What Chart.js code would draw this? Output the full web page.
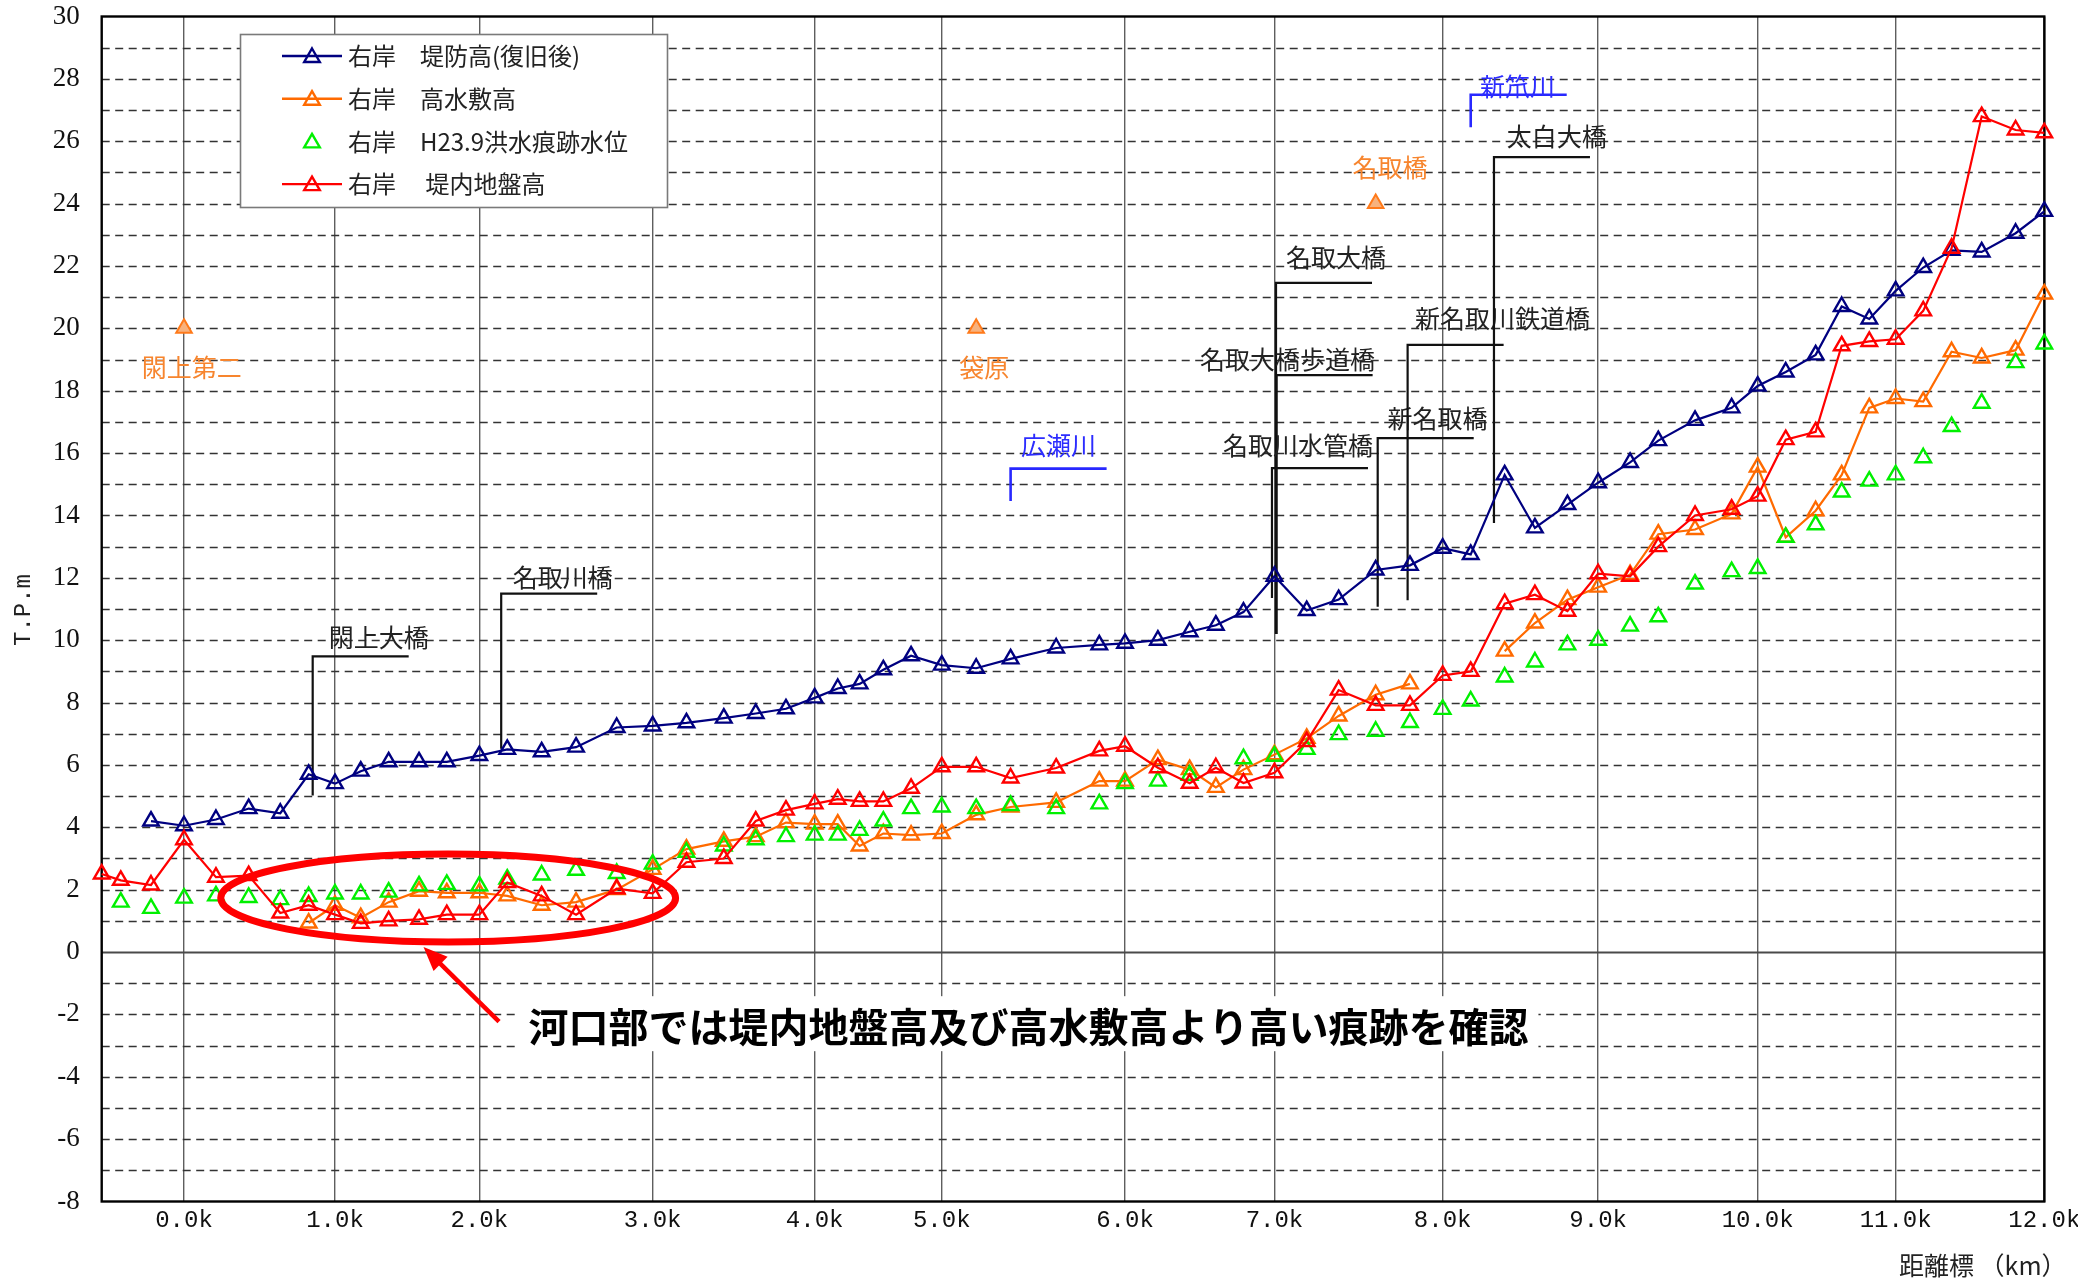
<!DOCTYPE html>
<html lang="ja">
<head>
<meta charset="utf-8">
<title>名取川 右岸 縦断図</title>
<script src="https://cdn.jsdelivr.net/npm/chart.js@4.4.1/dist/chart.umd.min.js"></script>
<style>
  html, body { margin: 0; padding: 0; background: #fff; }
  canvas { display: block; }
</style>
</head>
<body>
<canvas id="profile" width="2078" height="1280"></canvas>
<script>
// Distance marker (km) of each surveyed cross-section
const sectionKm = [
  -0.6, -0.4, -0.2, 0.0, 0.2, 0.4, 0.6, 0.8, 1.0, 1.2,
  1.4, 1.6, 1.8, 2.0, 2.2, 2.4, 2.6, 2.8, 3.0, 3.2,
  3.4, 3.6, 3.8, 4.0, 4.2, 4.4, 4.6, 4.8, 5.0, 5.2,
  5.4, 5.6, 5.8, 6.0, 6.2, 6.4, 6.6, 6.8, 7.0, 7.2,
  7.4, 7.6, 7.8, 8.0, 8.2, 8.4, 8.6, 8.8, 9.0, 9.2,
  9.4, 9.6, 9.8, 10.0, 10.2, 10.4, 10.6, 10.8, 11.0, 11.2,
  11.4, 11.6, 11.8, 12.0
];
// Plotted position of each cross-section along the channel (km)
const sectionPos = [
  -0.531, -0.408, -0.213, 0.000, 0.206, 0.417, 0.621, 0.804, 0.974, 1.140,
  1.320, 1.516, 1.695, 1.905, 2.085, 2.307, 2.529, 2.791, 3.023, 3.241,
  3.482, 3.688, 3.883, 4.068, 4.217, 4.358, 4.511, 4.690, 4.888, 5.110,
  5.332, 5.626, 5.904, 6.070, 6.282, 6.487, 6.656, 6.834, 7.034, 7.242,
  7.448, 7.687, 7.908, 8.119, 8.300, 8.519, 8.714, 8.924, 9.122, 9.328,
  9.510, 9.747, 9.983, 10.151, 10.332, 10.525, 10.693, 10.871, 11.041, 11.219,
  11.402, 11.596, 11.815, 12.000
];
// 右岸 堤防高(復旧後)  T.P.m
const leveeHeight = [
  null, null, 4.2, 4.05, 4.25, 4.6, 4.45, 5.7, 5.4, 5.8,
  6.1, 6.1, 6.1, 6.3, 6.5, 6.42, 6.57, 7.2, 7.25, 7.35,
  7.5, 7.65, 7.8, 8.15, 8.45, 8.6, 9.05, 9.5, 9.2, 9.1,
  9.4, 9.75, 9.85, 9.9, 10.0, 10.27, 10.48, 10.9, 12.05, 10.95,
  11.3, 12.25, 12.4, 12.95, 12.75, 15.3, 13.6, 14.35, 15.05, 15.7,
  16.4, 17.05, 17.45, 18.15, 18.6, 19.15, 20.7, 20.3, 21.2, 21.95,
  22.5, 22.45, 23.05, 23.75
];
// 右岸 高水敷高
const floodplainHeight = [
  null, null, null, null, null, null, null, 0.93, 1.5, 1.1,
  1.6, 1.95, 1.9, 1.9, 1.8, 1.5, 1.6, 2.0, 2.65, 3.3,
  3.55, 3.7, 4.15, 4.1, 4.1, 3.4, 3.8, 3.75, 3.8, 4.4,
  4.65, 4.8, 5.48, 5.48, 6.17, 5.85, 5.28, 5.85, 6.33, 6.85,
  7.57, 8.25, 8.6, null, null, 9.65, 10.55, 11.3, 11.7, 12.1,
  13.4, 13.55, 14.05, 15.55, 13.3, 14.15, 15.3, 17.45, 17.75, 17.65,
  19.25, 19.05, 19.3, 21.1
];
// 右岸 H23.9洪水痕跡水位
const floodMark = [
  null, 1.6, 1.4, 1.73, 1.8, 1.75, 1.68, 1.78, 1.86, 1.86,
  1.92, 2.12, 2.17, 2.12, 2.34, 2.47, 2.62, 2.52, 2.82, 3.2,
  3.4, 3.6, 3.7, 3.75, 3.75, 3.9, 4.2, 4.6, 4.65, 4.6,
  4.7, 4.6, 4.75, 5.4, 5.48, 5.67, null, 6.2, 6.28, 6.5,
  6.97, 7.08, 7.36, 7.78, 8.05, 8.82, 9.3, 9.85, 10.0, 10.45,
  10.75, 11.8, 12.2, 12.3, 13.3, 13.7, 14.75, 15.1, 15.3, 15.85,
  16.85, 17.6, 18.9, 19.5
];
// 右岸 堤内地盤高
const groundHeight = [
  2.5, 2.3, 2.15, 3.6, 2.4, 2.45, 1.25, 1.5, 1.2, 0.92,
  1.0, 1.05, 1.2, 1.2, 2.23, 1.8, 1.2, 2.03, 1.88, 2.88,
  3.0, 4.2, 4.55, 4.75, 4.9, 4.83, 4.83, 5.25, 5.94, 5.94,
  5.58, 5.9, 6.45, 6.6, 5.91, 5.41, 5.91, 5.42, 5.75, 6.75,
  8.4, 7.91, 7.91, 8.87, 9.0, 11.17, 11.46, 10.93, 12.13, 12.05,
  13.0, 14.0, 14.2, 14.62, 16.43, 16.68, 19.44, 19.58, 19.65, 20.56,
  22.57, 26.79, 26.36, 26.27
];

// Labelled km posts on the distance axis
const kmPosts = [0.0, 1.0, 2.0, 3.0, 4.0, 5.0, 6.0, 7.0, 8.0, 9.0, 10.0, 11.0, 12.0];
const kmPostLabels = ['0.0k', '1.0k', '2.0k', '3.0k', '4.0k', '5.0k', '6.0k', '7.0k', '8.0k', '9.0k', '10.0k', '11.0k', '12.0k'];

// Bridge girder levels marked on the profile
const bridgeMarkKm = [0.0, 5.2, 7.6];
const bridgeMarkHeight = [20, 20, 24];

// Leader callouts for bridges: anchor section position, top / bottom of leader (T.P.m)
const calloutNames  = ['閖上大橋', '名取川橋', '名取大橋', '名取大橋歩道橋', '名取川水管橋', '新名取橋', '新名取川鉄道橋', '太白大橋'];
const calloutPos    = [0.830, 2.046, 7.044, 7.048, 7.018, 7.700, 7.893, 8.450];
const calloutTop    = [9.48, 11.49, 21.46, 18.50, 15.52, 16.48, 19.47, 25.49];
const calloutBottom = [5.02, 6.52, 10.20, 10.20, 11.35, 11.07, 11.28, 13.76];
const calloutTextPos = [0.933, 2.120, 7.108, 6.554, 6.702, 7.764, 7.941, 8.532];
const calloutTextY   = [10.08, 12.00, 22.28, 19.01, 16.25, 17.12, 20.32, 26.16];

// Tributary confluences
const tributaryNames = ['広瀬川', '新笊川'];
const tributaryPos = [5.332, 8.300];
const tributaryTop = [15.50, 27.49];
const tributaryBottom = [14.46, 26.45];
const tributaryTextPos = [5.399, 8.360];
const tributaryTextY = [16.25, 27.74];

// Names printed under the bridge-level marks
const markNames = ['閖上第二', '袋原', '名取橋'];
const markTextPos = [-0.272, 5.001, 7.538];
const markTextY = [18.75, 18.75, 25.17];

const noteText = '河口部では堤内地盤高及び高水敷高より高い痕跡を確認';

const CJK = '"Noto Sans CJK JP", "Noto Sans CJK SC", sans-serif';
const NAVY = '#000080', ORANGE = '#ff6a00', GREEN = '#00f000', RED = '#ff0000';
const MARK_R = 9;

const toPoints = vals => vals.map((v, i) => ({ x: sectionPos[i], y: v }));
const posOf = km => sectionPos[sectionKm.indexOf(km)];
const kmPostPos = kmPosts.map(posOf);

function lineSet(label, values, color, order, showLine) {
  return {
    label, data: toPoints(values), order,
    showLine, spanGaps: false, tension: 0, clip: false,
    borderColor: color, borderWidth: 2.2,
    pointStyle: 'triangle', pointRadius: MARK_R, pointHoverRadius: MARK_R,
    pointBorderColor: color, pointBorderWidth: 2.4,
    pointBackgroundColor: 'rgba(0,0,0,0)'
  };
}

function triangle(ctx, x, y, r) {
  ctx.beginPath();
  ctx.moveTo(x, y - r);
  ctx.lineTo(x + r * 0.866, y + r / 2);
  ctx.lineTo(x - r * 0.866, y + r / 2);
  ctx.closePath();
}

// Dashed level grid, zero line, frame and leader callouts under the series
const backdrop = {
  id: 'backdrop',
  beforeDatasetsDraw(chart) {
    const { ctx, chartArea: a, scales: { x, y } } = chart;
    ctx.save();
    ctx.lineWidth = 1.5;
    ctx.strokeStyle = '#333';
    ctx.setLineDash([8, 5.5]);
    y.ticks.forEach(t => {
      if (t.value === 0 || t.value <= y.min || t.value >= y.max) return;
      const yy = Math.round(y.getPixelForValue(t.value)) + 0.5;
      ctx.beginPath(); ctx.moveTo(a.left, yy); ctx.lineTo(a.right, yy); ctx.stroke();
    });
    ctx.setLineDash([]);
    const y0 = Math.round(y.getPixelForValue(0)) + 0.5;
    ctx.lineWidth = 2.2; ctx.strokeStyle = '#4a4a4a';
    ctx.beginPath(); ctx.moveTo(a.left, y0); ctx.lineTo(a.right, y0); ctx.stroke();

    ctx.lineWidth = 2.4; ctx.strokeStyle = '#000';
    ctx.strokeRect(a.left, a.top, a.right - a.left, a.bottom - a.top);

    const drawLeader = (pos, top, bottom, color, width) => {
      const lx = x.getPixelForValue(pos);
      const ty = y.getPixelForValue(top);
      ctx.strokeStyle = color; ctx.lineWidth = width;
      ctx.beginPath();
      ctx.moveTo(lx, y.getPixelForValue(bottom));
      ctx.lineTo(lx, ty);
      ctx.lineTo(lx + 96, ty);
      ctx.stroke();
    };
    ctx.textBaseline = 'middle';
    ctx.textAlign = 'left';
    ctx.font = '25px ' + CJK;
    calloutNames.forEach((name, i) => {
      drawLeader(calloutPos[i], calloutTop[i], calloutBottom[i], '#111', 2.2);
      ctx.fillStyle = '#222';
      ctx.fillText(name, x.getPixelForValue(calloutTextPos[i]), y.getPixelForValue(calloutTextY[i]));
    });
    tributaryNames.forEach((name, i) => {
      drawLeader(tributaryPos[i], tributaryTop[i], tributaryBottom[i], '#2828ff', 2.6);
      ctx.fillStyle = '#2c2cff';
      ctx.fillText(name, x.getPixelForValue(tributaryTextPos[i]), y.getPixelForValue(tributaryTextY[i]));
    });
    ctx.fillStyle = '#f7852e';
    markNames.forEach((name, i) => {
      ctx.fillText(name, x.getPixelForValue(markTextPos[i]), y.getPixelForValue(markTextY[i]));
    });
    ctx.restore();
  }
};

// Highlight ellipse, arrow and note, legend box and axis titles
const overlay = {
  id: 'overlay',
  afterDraw(chart) {
    const { ctx, scales: { x, y } } = chart;
    ctx.save();

    // highlighted estuary reach
    const cx = x.getPixelForValue(1.704), cy = y.getPixelForValue(1.73);
    const rx = x.getPixelForValue(1.704 + 1.467) - cx;
    const ry = cy - y.getPixelForValue(1.73 + 1.41);
    ctx.strokeStyle = '#ff0000'; ctx.lineWidth = 7;
    ctx.beginPath(); ctx.ellipse(cx, cy, rx, ry, 0, 0, Math.PI * 2); ctx.stroke();

    // note with white backing
    ctx.font = 'bold 40px ' + CJK;
    ctx.textAlign = 'center'; ctx.textBaseline = 'middle';
    const nx = x.getPixelForValue(5.447), ny = y.getPixelForValue(-2.41);
    const w = ctx.measureText(noteText).width;
    ctx.fillStyle = '#fff';
    ctx.fillRect(nx - w / 2 - 10, ny - 31, w + 20, 55);
    ctx.fillStyle = '#000';
    ctx.fillText(noteText, nx, ny);

    // arrow to the ellipse
    const ax0 = x.getPixelForValue(2.032), ay0 = y.getPixelForValue(-2.23);
    const ax1 = x.getPixelForValue(1.545), ay1 = y.getPixelForValue(0.16);
    const ang = Math.atan2(ay1 - ay0, ax1 - ax0);
    const hl = 24, hw = 10;
    ctx.strokeStyle = '#ff0000'; ctx.fillStyle = '#ff0000'; ctx.lineWidth = 4.5;
    ctx.beginPath();
    ctx.moveTo(ax0, ay0);
    ctx.lineTo(ax1 - Math.cos(ang) * hl * 0.8, ay1 - Math.sin(ang) * hl * 0.8);
    ctx.stroke();
    ctx.beginPath();
    ctx.moveTo(ax1, ay1);
    ctx.lineTo(ax1 - Math.cos(ang) * hl - Math.sin(ang) * hw, ay1 - Math.sin(ang) * hl + Math.cos(ang) * hw);
    ctx.lineTo(ax1 - Math.cos(ang) * hl + Math.sin(ang) * hw, ay1 - Math.sin(ang) * hl - Math.cos(ang) * hw);
    ctx.closePath(); ctx.fill();

    // legend
    ctx.fillStyle = '#fff';
    ctx.fillRect(240, 34, 427, 173);
    ctx.strokeStyle = '#7a7a7a'; ctx.lineWidth = 1.6;
    ctx.strokeRect(240.5, 34.5, 427, 173);
    const rows = chart.data.datasets.filter(d => d.legendRow !== undefined)
      .sort((a, b) => a.legendRow - b.legendRow);
    ctx.textAlign = 'left'; ctx.textBaseline = 'middle';
    ctx.font = '24px ' + CJK;
    rows.forEach((d, i) => {
      const ry0 = 56 + i * 42.7;
      ctx.strokeStyle = d.borderColor; ctx.lineWidth = 2.4;
      if (d.showLine) {
        ctx.beginPath(); ctx.moveTo(282, ry0); ctx.lineTo(342, ry0); ctx.stroke();
      }
      triangle(ctx, 312, ry0 + 1.5, MARK_R); ctx.stroke();
      ctx.fillStyle = '#222';
      ctx.fillText(d.label, 348, ry0);
    });

    // axis titles
    ctx.fillStyle = '#222';
    ctx.font = '24px "Liberation Mono", monospace';
    ctx.save();
    ctx.translate(24, 610); ctx.rotate(-Math.PI / 2);
    ctx.textAlign = 'center';
    ctx.fillText('T.P.m', 0, 0);
    ctx.restore();
    ctx.font = '25px ' + CJK;
    ctx.textAlign = 'left';
    ctx.fillText('距離標 （km）', 1899, 1265);
    ctx.restore();
  }
};

const bridgeSet = {
  label: 'bridge', order: 4, showLine: false, clip: false,
  data: bridgeMarkKm.map((k, i) => ({ x: posOf(k), y: bridgeMarkHeight[i] })),
  pointStyle: 'triangle', pointRadius: MARK_R, pointHoverRadius: MARK_R,
  pointBorderColor: '#ff7a1a', pointBorderWidth: 2, pointBackgroundColor: '#f7b27e'
};

const levee = Object.assign(lineSet('右岸　堤防高(復旧後)', leveeHeight, NAVY, 3, true), { legendRow: 0 });
const plain = Object.assign(lineSet('右岸　高水敷高', floodplainHeight, ORANGE, 2, true), { legendRow: 1 });
const mark  = Object.assign(lineSet('右岸　H23.9洪水痕跡水位', floodMark, GREEN, 1, false), { legendRow: 2 });
const ground = Object.assign(lineSet('右岸　 堤内地盤高', groundHeight, RED, 0, true), { legendRow: 3 });

new Chart(document.getElementById('profile'), {
  type: 'line',
  data: { datasets: [levee, plain, mark, ground, bridgeSet] },
  options: {
    responsive: false,
    animation: false,
    devicePixelRatio: 1,
    events: [],
    layout: { padding: { top: 16.5, right: 33.7, left: 0, bottom: 0 } },
    plugins: { legend: { display: false }, tooltip: { enabled: false } },
    scales: {
      x: {
        type: 'linear',
        min: sectionPos[0],
        max: sectionPos[sectionPos.length - 1],
        afterBuildTicks: s => { s.ticks = kmPostPos.map(v => ({ value: v })); },
        afterFit: s => { s.height = 78.5; s.paddingLeft = 0; s.paddingRight = 0; },
        ticks: {
          autoSkip: false, maxRotation: 0, padding: 5,
          color: '#111',
          font: { family: '"Liberation Mono", monospace', size: 24 },
          callback: (v, i) => kmPostLabels[i]
        },
        grid: { color: '#5e5e5e', lineWidth: 1.4, drawTicks: false },
        border: { display: false }
      },
      y: {
        min: -8, max: 30,
        afterFit: s => { s.width = 101.7; s.paddingTop = 0; s.paddingBottom = 0; },
        ticks: {
          stepSize: 1, autoSkip: false, padding: 22,
          color: '#111',
          font: { family: '"Liberation Serif", serif', size: 27 },
          callback: v => (v % 2 === 0 ? String(v) : '')
        },
        grid: { display: false, drawTicks: false },
        border: { display: false }
      }
    }
  },
  plugins: [backdrop, overlay]
});
</script>
</body>
</html>
